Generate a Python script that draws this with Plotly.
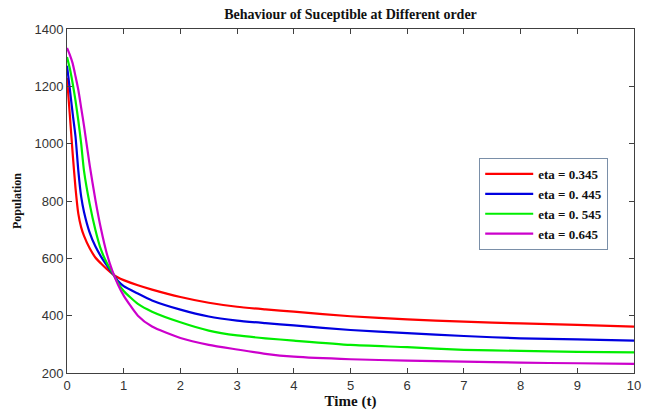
import plotly.graph_objects as go

# Time grid (t) and susceptible population for each fractional order
time_t = [0, 0.05, 0.1, 0.15, 0.2, 0.25, 0.3, 0.4, 0.5, 0.6, 0.7, 0.8, 0.9,
          1.0, 1.25, 1.5, 2, 2.5, 3, 3.5, 4, 5, 6, 7, 8, 9, 10]

s_eta_345 = [1230, 1100, 965, 845, 755, 708, 678, 635, 603, 582, 563, 546, 533,
             524, 506, 491, 465, 445, 431, 422, 414, 398, 387, 379, 373, 368, 362]
s_eta_445 = [1272, 1190, 1105, 1025, 905, 815, 762, 690, 642, 606, 576, 548, 521,
             503, 477, 453, 421, 397, 383, 374, 366, 350, 339, 329, 321, 317, 313]
s_eta_545 = [1302, 1262, 1210, 1150, 1080, 1000, 905, 790, 700, 630, 585, 551, 514,
             486, 441, 414, 377, 348, 331, 321, 313, 298, 290, 281, 277, 274, 272]
s_eta_645 = [1334, 1310, 1280, 1235, 1187, 1125, 1062, 925, 805, 702, 618, 556, 508,
             470, 400, 362, 322, 298, 282, 267, 257, 248, 243, 240, 236, 234, 232]

series_names = ["eta = 0.345", "eta = 0. 445", "eta = 0. 545", "eta = 0.645"]
series_values = [s_eta_345, s_eta_445, s_eta_545, s_eta_645]
series_colors = ["#ff0000", "#0000e0", "#00ee00", "#cc00cc"]

x_ticks = list(range(0, 11))
y_ticks = [200, 400, 600, 800, 1000, 1200, 1400]

serif = "Liberation Serif, Times New Roman, serif"
sans = "Liberation Sans, Arial, sans-serif"

fig = go.Figure()
for name, vals, col in zip(series_names, series_values, series_colors):
    fig.add_trace(go.Scatter(
        x=time_t, y=vals, mode="lines", name="<b>" + name + "</b>",
        line=dict(color=col, width=2.2, shape="spline", smoothing=0.6),
    ))

axis_common = dict(
    showgrid=False, zeroline=False, showline=True, linecolor="#404040",
    linewidth=1, mirror="ticks", ticks="inside", ticklen=5,
    tickcolor="#404040", tickwidth=1,
    tickfont=dict(family=sans, size=13, color="#333333"),
)

fig.update_layout(
    width=647, height=415,
    margin=dict(l=67, r=6, t=29, b=42),
    paper_bgcolor="white", plot_bgcolor="white",
    title=dict(
        text="<b>Behaviour of Suceptible at Different order</b>",
        font=dict(family=serif, size=14, color="#111111"),
        x=0.5, xanchor="center", xref="paper", y=0.965, yanchor="middle",
    ),
    xaxis=dict(
        range=[0, 10], tickvals=x_ticks, ticklabeloverflow="allow",
        title=dict(text="<b>Time (t)</b>", font=dict(family=serif, size=15, color="#111111"),
                   standoff=3),
        **axis_common,
    ),
    yaxis=dict(
        range=[200, 1400], tickvals=y_ticks,
        title=dict(text="<b>Population</b>", font=dict(family=serif, size=12, color="#111111"),
                   standoff=10),
        **axis_common,
    ),
    legend=dict(
        x=0.727, y=0.625, xanchor="left", yanchor="top",
        bgcolor="white", bordercolor="#7a8fa8", borderwidth=1,
        font=dict(family=serif, size=13, color="#111111"),
        itemwidth=48, tracegroupgap=0,
    ),
    showlegend=True,
)

fig.write_html("out.html")
